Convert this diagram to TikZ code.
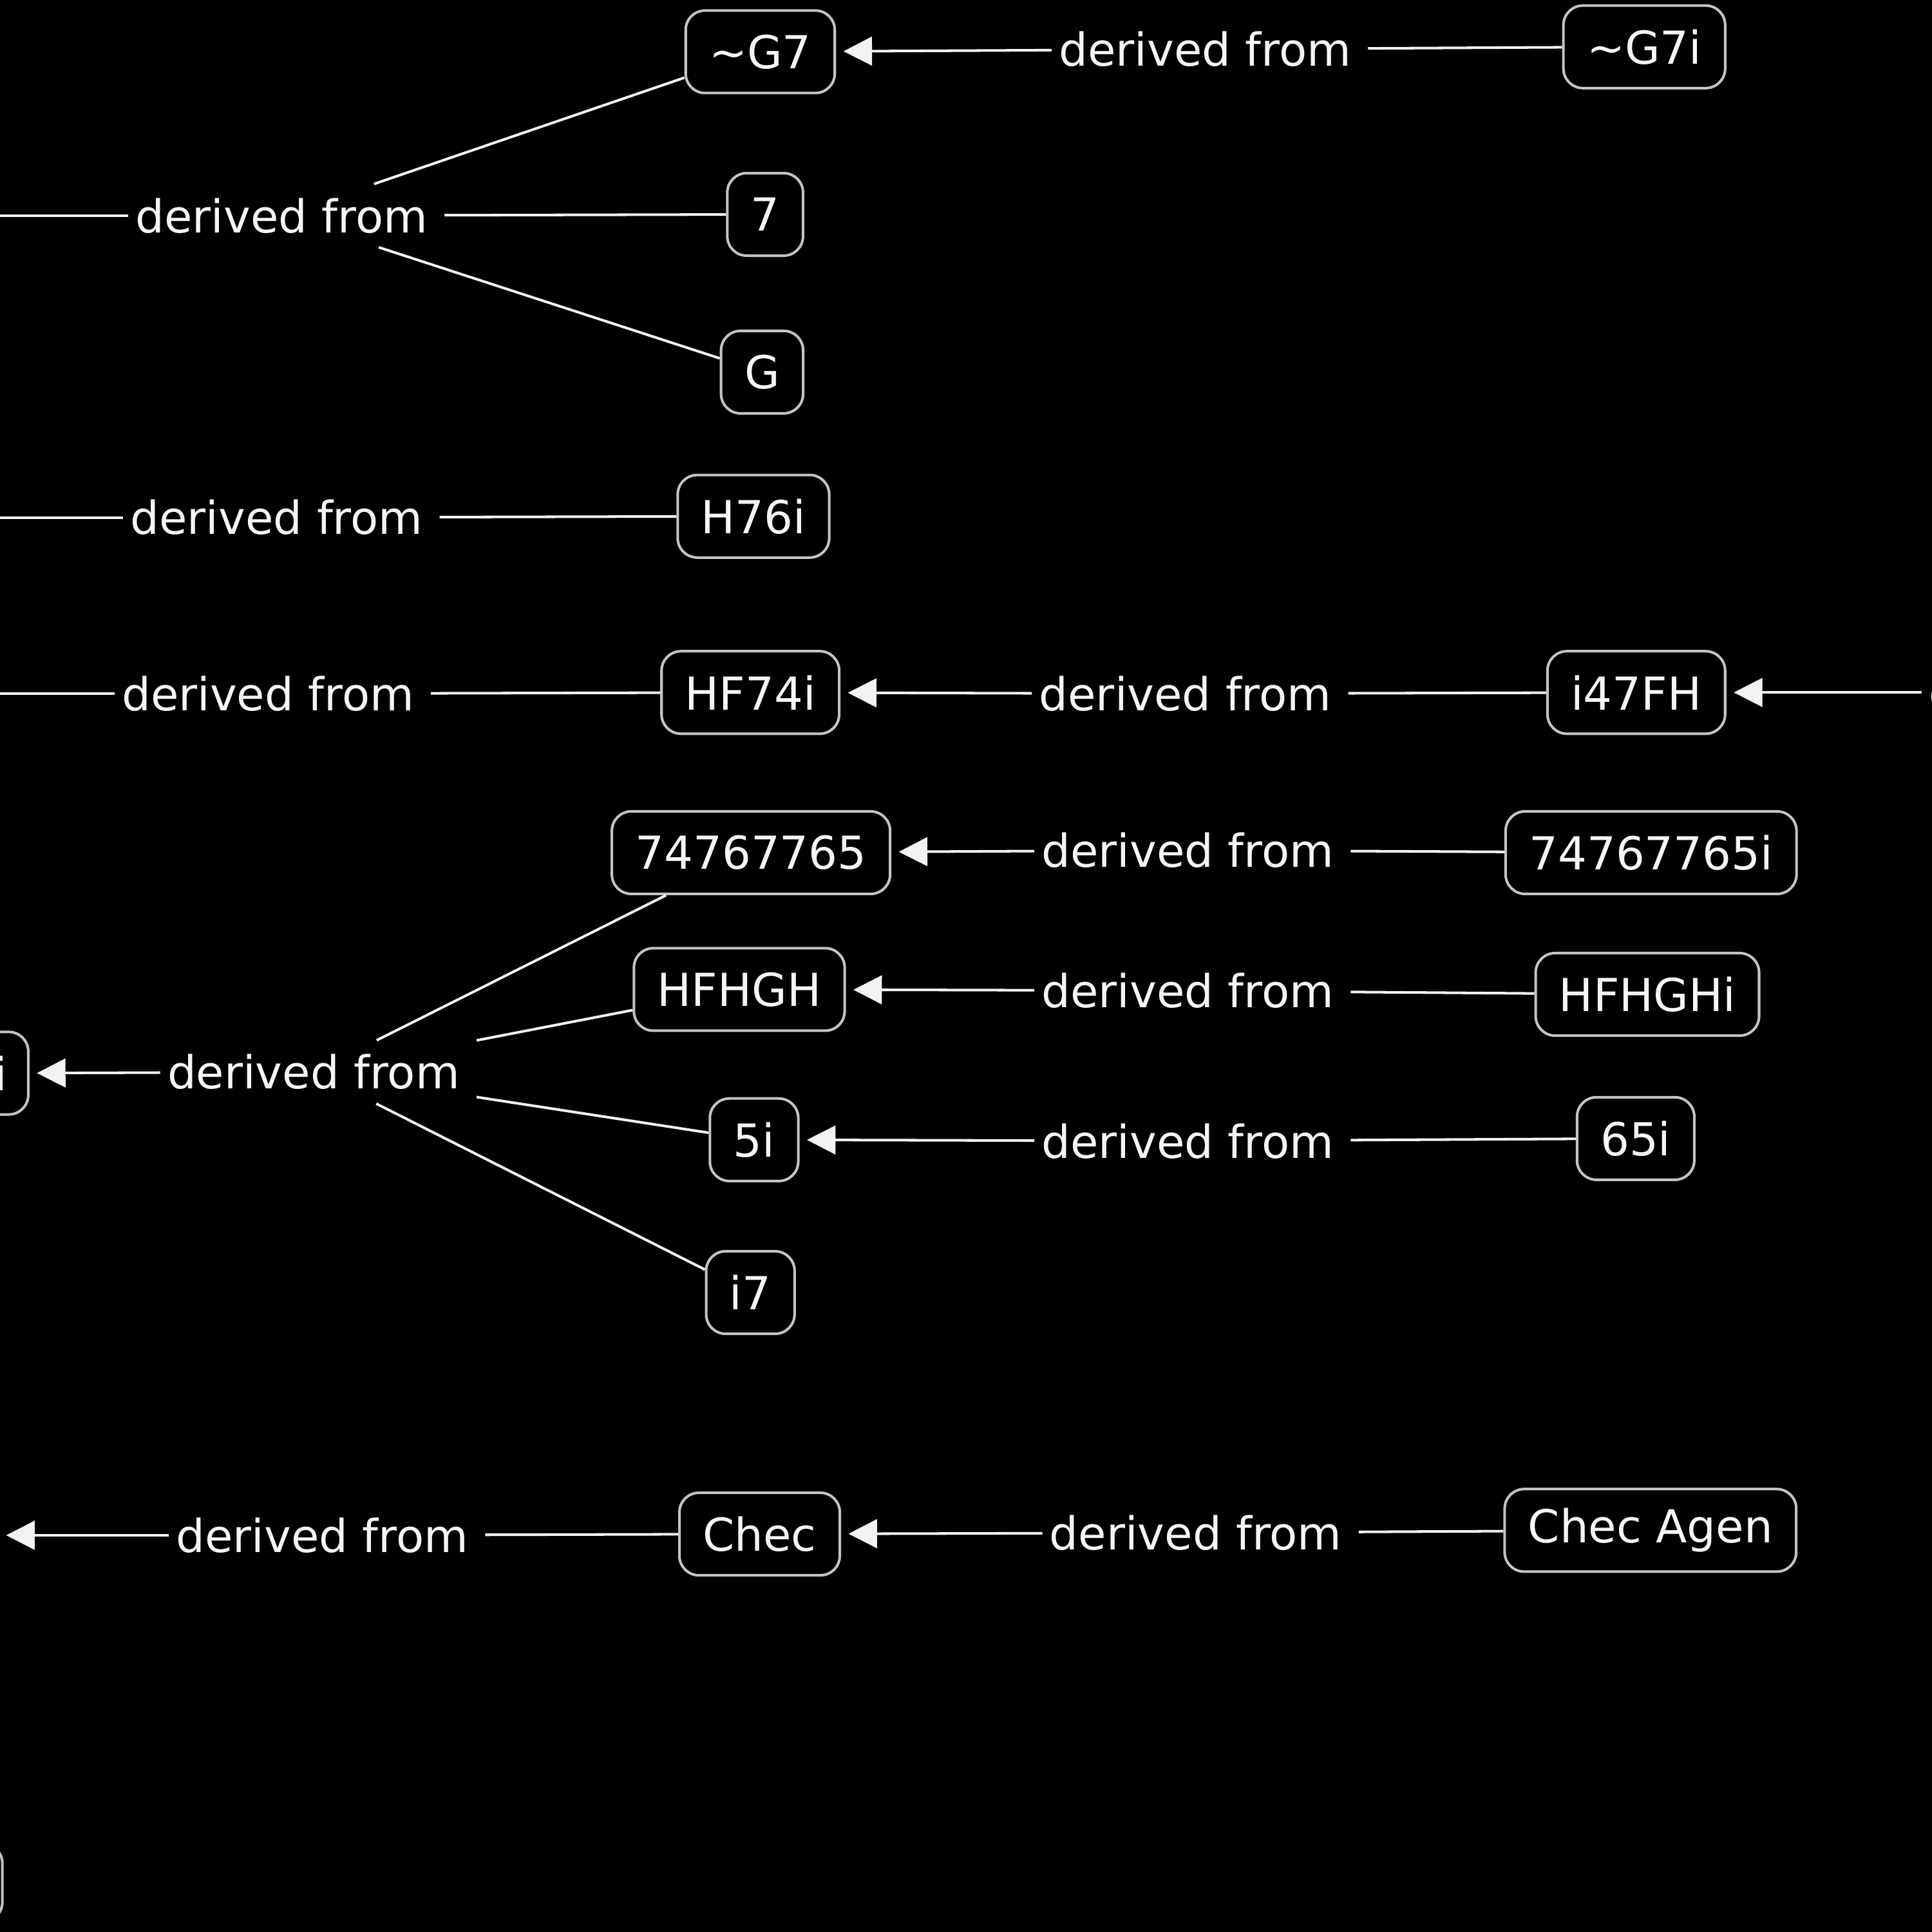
\documentclass[tikz,border=0pt]{standalone}
\usepackage{fontspec}
\setmainfont{DejaVu Sans}
\usepackage{xcolor}
\usepackage{tikz}
\usetikzlibrary{arrows.meta}
\definecolor{derivLine}{HTML}{F2F2F2}
\definecolor{derivBorder}{HTML}{C4C4C4}
\definecolor{derivText}{HTML}{F5F5F5}
\tikzset{
  term/.style={draw=derivBorder, line width=0.6pt, rounded corners=4.5pt,
    text=derivText, minimum height=6.7mm, inner xsep=1.9mm, inner ysep=0pt,
    font=\fontsize{10.5}{12}\selectfont},
  rel/.style={text=derivText, minimum height=5mm, inner xsep=1.3mm,
    inner ysep=0pt, font=\fontsize{10.5}{12}\selectfont},
  link/.style={draw=derivLine, line width=0.6pt},
  derive/.style={link, -{Triangle[length=6.6pt, width=6.6pt]},
    shorten >=1.7pt, shorten <=-2.2pt}
}
\begin{document}
\begin{tikzpicture}[x=0.1mm, y=-0.1mm]
  \useasboundingbox[fill=black] (0,0) rectangle (1568,1568);
  \clip (0,0) rectangle (1568,1568);
  % top branch
  \node[term] (g7) at (617,42) {\textasciitilde G7};
  \node[rel] (rg7) at (978,40) {derived from};
  \node[term] (g7i) at (1334.5,38) {\textasciitilde G7i};
  \node[term] (seven) at (621,174) {7};
  \node[term] (g) at (618.5,302) {G};
  \node[rel] (rtop) at (228.5,175) {derived from};
  \coordinate (outtop) at (-120,175);
  \draw[link] (g7i) -- (rg7);
  \draw[derive] (rg7) -- (g7);
  \draw[link] (g7) -- (rtop);
  \draw[link] (seven) -- (rtop);
  \draw[link] (g) -- (rtop);
  \draw[derive] (rtop) -- (outtop);
  % H76i
  \node[term] (h76i) at (611.5,419) {H76i};
  \node[rel] (rh76i) at (224.5,420) {derived from};
  \coordinate (outh76i) at (-120,420);
  \draw[link] (h76i) -- (rh76i);
  \draw[derive] (rh76i) -- (outh76i);
  % HF74i chain
  \node[term] (hf74i) at (609,562) {HF74i};
  \node[rel] (rhf74i) at (217.5,563) {derived from};
  \coordinate (outhf74i) at (-120,563);
  \node[term] (i47fh) at (1328,562) {i47FH};
  \node[rel] (ri47fh) at (962,563) {derived from};
  \node[rel] (rright) at (1684,562) {derived from};
  \draw[link] (hf74i) -- (rhf74i);
  \draw[derive] (rhf74i) -- (outhf74i);
  \draw[link] (i47fh) -- (ri47fh);
  \draw[derive] (ri47fh) -- (hf74i);
  \draw[derive] (rright) -- (i47fh);
  % middle branch
  \node[term] (n74) at (609.5,692) {74767765};
  \node[rel] (rn74) at (964,690) {derived from};
  \node[term] (n74i) at (1340,692) {74767765i};
  \node[term] (hfhgh) at (600,803) {HFHGH};
  \node[rel] (rhfhgh) at (964,804) {derived from};
  \node[term] (hfhghi) at (1337,807) {HFHGHi};
  \node[term] (n5i) at (612,925) {5i};
  \node[rel] (rn5i) at (964,926) {derived from};
  \node[term] (n65i) at (1327.5,924) {65i};
  \node[term] (i7) at (609,1049) {i7};
  \node[rel] (rmid) at (254.5,870) {derived from};
  \node[term, anchor=east, inner xsep=1.7mm] (lefti) at (24,871) {i};
  \draw[link] (n74i) -- (rn74);
  \draw[derive] (rn74) -- (n74);
  \draw[link] (hfhghi) -- (rhfhgh);
  \draw[derive] (rhfhgh) -- (hfhgh);
  \draw[link] (n65i) -- (rn5i);
  \draw[derive] (rn5i) -- (n5i);
  \draw[link] (n74) -- (rmid);
  \draw[link] (hfhgh) -- (rmid);
  \draw[link] (n5i) -- (rmid);
  \draw[link] (i7) -- (rmid);
  \draw[derive] (rmid) -- (lefti);
  % Chec chain
  \node[term] (chec) at (616.5,1245) {Chec};
  \node[rel] (rchec) at (261.5,1246) {derived from};
  \coordinate (outchec) at (-1,1246);
  \node[term] (checagen) at (1339.5,1242) {Chec Agen};
  \node[rel] (rcheca) at (970.5,1244) {derived from};
  \draw[link] (chec) -- (rchec);
  \draw[derive] (rchec) -- (outchec);
  \draw[link] (checagen) -- (rcheca);
  \draw[derive] (rcheca) -- (chec);
  \node[term, anchor=east, minimum width=10mm, minimum height=6.3mm] (leftlow) at (3,1528) {};
\end{tikzpicture}
\end{document}
